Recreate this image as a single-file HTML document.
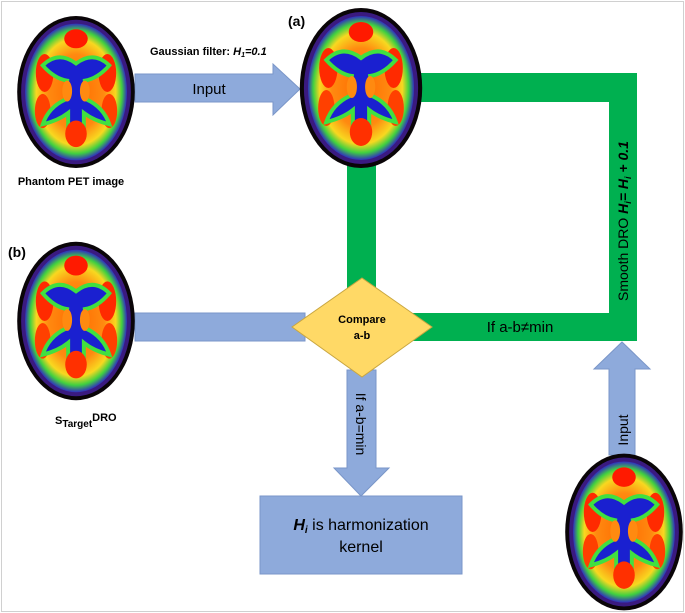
<!DOCTYPE html>
<html><head><meta charset="utf-8"><style>
html,body{margin:0;padding:0;background:#fff}
svg{display:block}
text{font-family:"Liberation Sans",sans-serif}
</style></head><body>
<svg width="685" height="613" viewBox="0 0 685 613" xmlns="http://www.w3.org/2000/svg">
<defs>
<radialGradient id="gb" cx="50%" cy="50%" r="50%">
<stop offset="0" stop-color="#ff6a00"/><stop offset="0.55" stop-color="#ff8a10"/><stop offset="0.78" stop-color="#f8d820"/><stop offset="0.9" stop-color="#40d040"/><stop offset="1" stop-color="#3030c0"/>
</radialGradient>
<g id="brain">
<ellipse cx="0" cy="0" rx="60" ry="80" fill="#0a0508"/>
<ellipse cx="0" cy="0" rx="56" ry="76" fill="#3a1a80"/>
<ellipse cx="0" cy="0" rx="52" ry="72" fill="url(#gb)"/>
<ellipse cx="-32" cy="-20" rx="9" ry="20" fill="#ff2a00"/>
<ellipse cx="32" cy="-20" rx="9" ry="20" fill="#ff2a00"/>
<ellipse cx="-34" cy="20" rx="8" ry="18" fill="#ff4000"/>
<ellipse cx="34" cy="20" rx="8" ry="18" fill="#ff4000"/>
<ellipse cx="0" cy="-56" rx="12" ry="10" fill="#ff1a00"/>
<path d="M-34,-28 Q-18,-44 0,-30 Q18,-44 34,-28 Q22,-14 9,-12 L11,8 Q28,16 34,34 Q18,30 8,22 L8,48 Q0,56 -8,48 L-8,22 Q-18,30 -34,34 Q-28,16 -11,8 L-9,-12 Q-22,-14 -34,-28Z" fill="#1a20d0" stroke="#40e040" stroke-width="4"/>
<ellipse cx="-9" cy="-1" rx="5" ry="11" fill="#ff8a10"/>
<ellipse cx="9" cy="-1" rx="5" ry="11" fill="#ff8a10"/>
<ellipse cx="0" cy="44" rx="11" ry="14" fill="#ff3000"/>
</g>
</defs>
<rect x="1.5" y="1.5" width="682" height="610" fill="#fff" stroke="#d0d0d0"/>
<rect x="347" y="164" width="29" height="131" fill="#00b050"/>
<rect x="415" y="73" width="222" height="29" fill="#00b050"/>
<rect x="609" y="73" width="28" height="268" fill="#00b050"/>
<rect x="412" y="313" width="225" height="28" fill="#00b050"/>
<rect x="135" y="313" width="170" height="28" fill="#8eaadb" stroke="#7a96c8"/>
<polygon points="347,370 376,370 376,468 389,468 361,496 334,468 347,468" fill="#8eaadb" stroke="#7a96c8"/>
<polygon points="135,74 273,74 273,64 300,89 273,115 273,102 135,102" fill="#8eaadb" stroke="#7a96c8"/>
<polygon points="609,455 609,369 594,369 622,342 650,369 635,369 635,455" fill="#8eaadb" stroke="#7a96c8"/>
<polygon points="362,278 432,327 362,377 292,327" fill="#ffd966" stroke="#c9a640"/>
<text x="362" y="323" font-size="11" font-weight="bold" text-anchor="middle">Compare</text>
<text x="362" y="339" font-size="11" font-weight="bold" text-anchor="middle">a-b</text>
<rect x="260" y="496" width="202" height="78" fill="#8eaadb" stroke="#7a96c8"/>
<text x="361" y="530" font-size="16" text-anchor="middle"><tspan font-weight="bold" font-style="italic">H<tspan font-size="10" dy="3">i</tspan></tspan><tspan dy="-3"> is harmonization</tspan></text>
<text x="361" y="552" font-size="16" text-anchor="middle">kernel</text>
<use href="#brain" transform="translate(76,92) scale(0.98,0.95)"/>
<use href="#brain" transform="translate(361,88) scale(1.02,1.0)"/>
<use href="#brain" transform="translate(76,321) scale(0.98,0.99)"/>
<use href="#brain" transform="translate(624,532) scale(0.98,0.98)"/>
<text x="71" y="185" font-size="11" font-weight="bold" text-anchor="middle">Phantom PET image</text>
<text x="150" y="55" font-size="11" font-weight="bold">Gaussian filter: <tspan font-style="italic">H<tspan font-size="7" dy="2">1</tspan><tspan dy="-2">=0.1</tspan></tspan></text>
<text x="209" y="94" font-size="15" text-anchor="middle">Input</text>
<text x="288" y="26" font-size="14" font-weight="bold">(a)</text>
<text x="8" y="257" font-size="14" font-weight="bold">(b)</text>
<text x="55" y="424" font-size="11" font-weight="bold">S<tspan font-size="10" dy="3">Target</tspan><tspan dy="-6">DRO</tspan></text>
<text x="520" y="332" font-size="15" text-anchor="middle">If a-b≠min</text>
<text transform="translate(356,424) rotate(90)" font-size="14" text-anchor="middle">If a-b=min</text>
<text transform="translate(628,221) rotate(-90)" font-size="14" text-anchor="middle">Smooth DRO <tspan font-weight="bold" font-style="italic">H<tspan font-size="9" dy="3">i</tspan><tspan dy="-3">= H</tspan><tspan font-size="9" dy="3">i</tspan><tspan dy="-3"> + 0.1</tspan></tspan></text>
<text transform="translate(628,430) rotate(-90)" font-size="14" text-anchor="middle">Input</text>
</svg>
</body></html>
